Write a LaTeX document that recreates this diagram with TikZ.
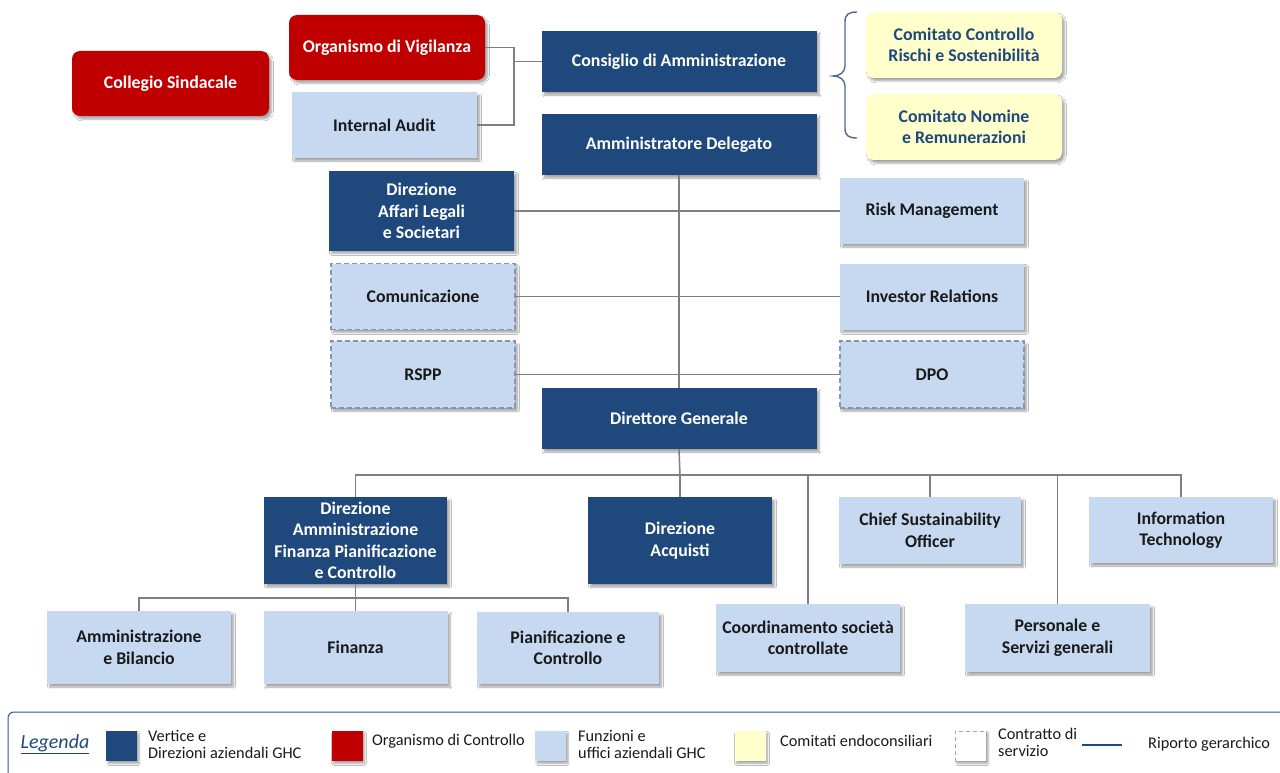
\documentclass[tikz,border=0pt]{standalone}
\usepackage{fontspec}
\setmainfont{Carlito}
\usetikzlibrary{shadows.blur}
\definecolor{dblue}{HTML}{1F497D}
\definecolor{dred}{HTML}{C00000}
\definecolor{lblue}{HTML}{C6D9F1}
\definecolor{lyel}{HTML}{FFFFCC}
\definecolor{lgray}{HTML}{7F7F7F}
\definecolor{dashc}{HTML}{8497B0}
\definecolor{txt}{HTML}{1A1A1A}
\definecolor{bracec}{HTML}{4F6A92}
\definecolor{legc}{HTML}{2F5597}
\tikzset{
  base/.style={inner sep=2pt, outer sep=0pt, align=center,
    font=\bfseries\fontsize{17.8}{21.5}\selectfont,
    blur shadow={shadow xshift=2.5pt, shadow yshift=-3pt, shadow blur steps=6, shadow opacity=35}},
  darkbox/.style={base, fill=dblue, text=white},
  redbox/.style={base, fill=dred, text=white, rounded corners=8pt},
  lightbox/.style={base, fill=lblue, text=txt},
  dashbox/.style={lightbox, draw=dashc, line width=1.1pt, dash pattern=on 5pt off 3pt},
  yelbox/.style={base, fill=lyel, text=dblue, rounded corners=8pt},
  conn/.style={draw=lgray, line width=1.5pt},
  swatch/.style={minimum width=31pt, minimum height=30pt, inner sep=0pt,
    blur shadow={shadow xshift=2pt, shadow yshift=-2.5pt, shadow blur steps=5, shadow opacity=35}},
  legtxt/.style={anchor=west, align=left, inner sep=0pt, text=txt,
    font=\fontsize{16.3}{17}\selectfont}
}
\begin{document}
\begin{tikzpicture}[x=1pt, y=-1pt]
\useasboundingbox (0,0) rectangle (1280,773);
\fill[white] (0,0) rectangle (1280,773);

% top level
\node[redbox, minimum width=197pt, minimum height=65pt] (cs) at (170.5,83.5) {Collegio Sindacale};
\node[redbox, minimum width=196pt, minimum height=65pt] (odv) at (387,47.5) {Organismo di Vigilanza};
\node[lightbox, minimum width=185pt, minimum height=66pt] (ia) at (384.5,125) {Internal Audit};
\node[darkbox, minimum width=275pt, minimum height=61pt] (cda) at (679,61.5) {Consiglio di Amministrazione};
\node[darkbox, minimum width=275pt, minimum height=61pt] (ad) at (679,144.5) {Amministratore Delegato};
\node[yelbox, minimum width=196pt, minimum height=66pt] (ccr) at (964,45) {Comitato Controllo\\Rischi e Sostenibilità};
\node[yelbox, minimum width=196pt, minimum height=66pt] (cnr) at (964,127) {Comitato Nomine\\e Remunerazioni};

% staff
\node[darkbox, minimum width=185pt, minimum height=79pt] (legal) at (421.5,211) {Direzione\\Affari Legali\\e Societari};
\node[lightbox, minimum width=184pt, minimum height=66pt] (risk) at (932,211) {Risk Management};
\node[dashbox, minimum width=184pt, minimum height=66pt] (com) at (423,296.5) {Comunicazione};
\node[lightbox, minimum width=184pt, minimum height=66pt] (ir) at (932,296.5) {Investor Relations};
\node[dashbox, minimum width=184pt, minimum height=67pt] (rspp) at (423,374.5) {RSPP};
\node[dashbox, minimum width=184pt, minimum height=67pt] (dpo) at (932,374.5) {DPO};
\node[darkbox, minimum width=275pt, minimum height=61pt] (dg) at (679,418.5) {Direttore Generale};

% second level
\node[darkbox, minimum width=183pt, minimum height=87pt] (dafc) at (355.5,540.5) {Direzione\\Amministrazione\\Finanza Pianificazione\\e Controllo};
\node[darkbox, minimum width=184pt, minimum height=87pt] (acq) at (680,540.5) {Direzione\\Acquisti};
\node[lightbox, minimum width=182pt, minimum height=67pt] (cso) at (930,530.5) {Chief Sustainability\\Officer};
\node[lightbox, minimum width=184pt, minimum height=66pt] (it) at (1181,530) {Information\\Technology};
\node[lightbox, minimum width=184pt, minimum height=68pt] (coord) at (808,638) {Coordinamento società\\controllate};
\node[lightbox, minimum width=185pt, minimum height=68pt] (pers) at (1057.5,638) {Personale e\\Servizi generali};
\node[lightbox, minimum width=184pt, minimum height=73pt] (amb) at (139,647.5) {Amministrazione\\e Bilancio};
\node[lightbox, minimum width=184pt, minimum height=73pt] (fin) at (355.5,647.5) {Finanza};
\node[lightbox, minimum width=182pt, minimum height=72pt] (pc) at (568,648) {Pianificazione e\\Controllo};

% connectors
\coordinate (j1) at (514,62);
\draw[conn] (odv.east) -| (j1) |- (ia.east);
\draw[conn] (cda.west) -- (cda.west -| j1);
\draw[conn] (ad.south) -- (dg.north);
\draw[conn] (legal.east) -- (risk.west);
\draw[conn] (com.east) -- (ir.west);
\draw[conn] (rspp.east) -- (dpo.west);
\coordinate (bus) at (680,475);
\draw[conn] (dg.south) -- (bus);
\draw[conn] (dafc.north) -- (dafc.north |- bus) -- (it.north |- bus) -- (it.north);
\draw[conn] (acq.north) -- (acq.north |- bus);
\draw[conn] (cso.north) -- (cso.north |- bus);
\draw[conn] (coord.north) -- (coord.north |- bus);
\draw[conn] (pers.north) -- (pers.north |- bus);
\coordinate (sb) at (356,598);
\draw[conn] (dafc.south) -- (fin.north);
\draw[conn] (amb.north) -- (amb.north |- sb) -- (pc.north |- sb) -- (pc.north);

% brace
\draw[bracec, line width=1.4pt] (857,12) .. controls (849,12) and (845,14) .. (845,22) -- (845,66)
  .. controls (845,72) and (840,76) .. (833,76) .. controls (840,76) and (845,80) .. (845,86)
  -- (845,128) .. controls (845,136) and (849,138) .. (857,138);

% legend
\begin{scope}
\clip (0,0) rectangle (1280,773);
\draw[legc, line width=1pt, rounded corners=6pt] (8,712) rectangle (1300,800);
\end{scope}
\node[inner sep=0pt, text=dblue, font=\itshape\fontsize{20}{22}\selectfont] (lg) at (55,744) {\underline{Legenda}};
\node[swatch, fill=dblue] (s1) at (121.5,746) {};
\node[legtxt] (t1) at (148,744) {Vertice e\\Direzioni aziendali GHC};
\node[swatch, fill=dred] (s2) at (347,746) {};
\node[legtxt] (t2) at (372,741) {Organismo di Controllo};
\node[swatch, fill=lblue] (s3) at (550.5,746) {};
\node[legtxt] (t3) at (578,744) {Funzioni e\\uffici aziendali GHC};
\node[swatch, fill=lyel] (s4) at (750,746) {};
\node[legtxt] (t4) at (780,741) {Comitati endoconsiliari};
\node[swatch, fill=white, draw=lgray!70, dash pattern=on 4pt off 3pt, line width=0.9pt] (s5) at (970.5,746) {};
\node[legtxt] (t5) at (998,742) {Contratto di\\servizio};
\coordinate (la) at (1082,745);
\coordinate (lb) at (1122,745);
\draw[dblue, line width=1.3pt] (la) -- (lb);
\node[legtxt] (t6) at (1148,744) {Riporto gerarchico};
\end{tikzpicture}
\end{document}
